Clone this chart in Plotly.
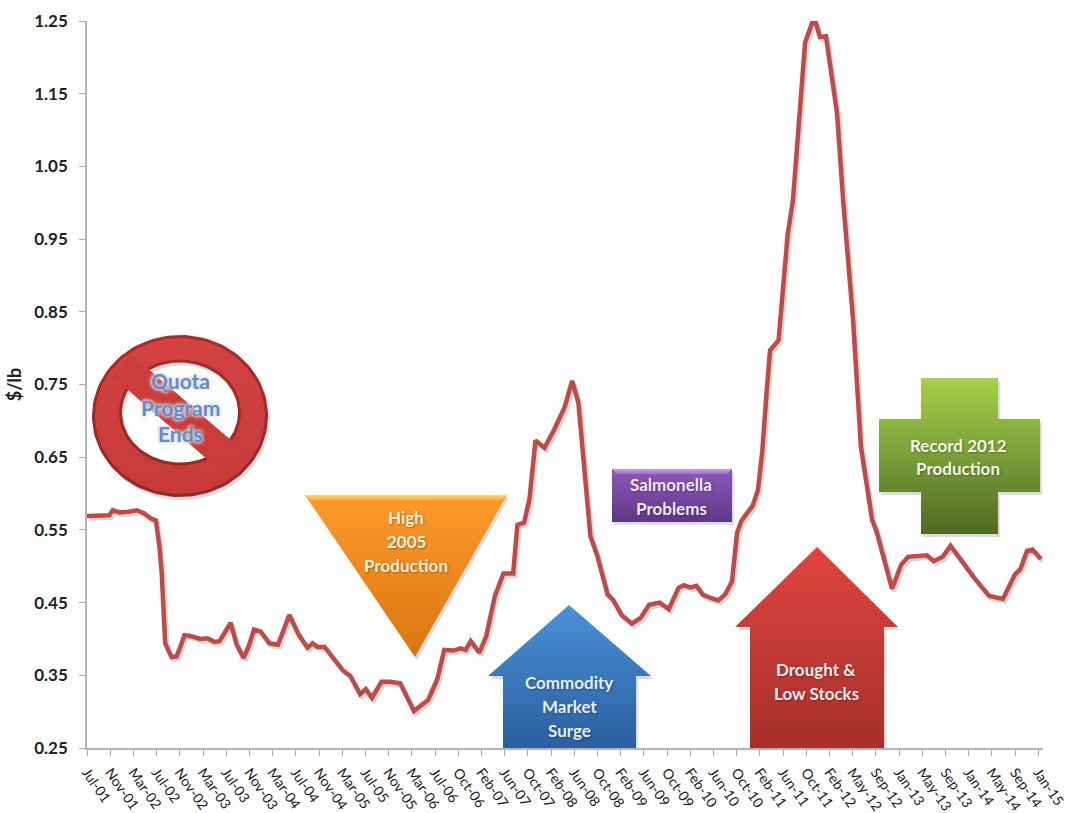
import numpy as np
import plotly.graph_objects as go

tick_labels = ["Jul-01","Nov-01","Mar-02","Jul-02","Nov-02","Mar-03","Jul-03","Nov-03","Mar-04","Jul-04","Nov-04",
               "Mar-05","Jul-05","Nov-05","Mar-06","Jul-06","Oct-06","Feb-07","Jun-07","Oct-07","Feb-08","Jun-08",
               "Oct-08","Feb-09","Jun-09","Oct-09","Feb-10","Jun-10","Oct-10","Feb-11","Jun-11","Oct-11","Feb-12",
               "May-12","Sep-12","Jan-13","May-13","Sep-13","Jan-14","May-14","Sep-14","Jan-15"]

# position along the date axis, in tick intervals
period_pos = [0,.96,1.11,1.41,1.78,2.15,2.45,2.74,2.97,3.12,3.22,3.37,3.64,3.86,4.01,4.2,4.45,4.9,5.19,5.49,5.71,5.93,
              6.19,6.45,6.75,6.97,7.2,7.49,7.86,8.23,8.46,8.72,9.12,9.5,9.72,9.94,10.24,10.68,11.02,11.35,11.77,12.02,
              12.28,12.69,13.06,13.5,14.09,14.7,15.09,15.4,15.8,16.1,16.32,16.54,16.91,17.21,17.58,17.95,18.37,18.55,
              18.84,19.07,19.33,19.72,20.14,20.58,20.91,21.18,21.48,21.7,22.0,22.44,22.67,23.04,23.49,23.86,24.23,24.68,
              25.08,25.49,25.72,26.01,26.27,26.54,26.91,27.21,27.5,27.8,28.02,28.2,28.4,28.69,28.92,29.1,29.29,29.44,
              29.81,30.2,30.43,30.73,30.95,31.25,31.42,31.59,31.85,32.33,32.59,33.02,33.36,33.84,34.05,34.7,35.09,35.39,
              35.99,36.2,36.5,36.88,37.22,37.7,38.29,38.89,39.48,40.0,40.23,40.52,40.75,41.12]
price = [.569,.570,.577,.574,.575,.577,.573,.566,.563,.527,.491,.394,.375,.376,.388,.405,.404,.400,.401,.396,.397,.408,
         .422,.392,.374,.390,.413,.410,.394,.392,.413,.433,.406,.388,.394,.389,.389,.372,.357,.349,.324,.331,
         .319,.341,.341,.339,.301,.316,.344,.385,.384,.387,.385,.397,.381,.404,.459,.490,.490,.557,
         .560,.592,.673,.663,.688,.718,.755,.725,.619,.541,.514,.461,.454,.433,.421,.429,.447,.450,
         .441,.470,.474,.471,.473,.461,.456,.453,.461,.479,.546,.562,.571,.583,.605,.656,.738,.797,
         .811,.956,1.004,1.118,1.22,1.247,1.247,1.228,1.229,1.123,1.004,.839,.664,.564,.546,.469,.502,.513,
         .515,.515,.507,.513,.528,.507,.482,.459,.455,.489,.496,.521,.523,.510]

y_ticks = [0.25,0.35,0.45,0.55,0.65,0.75,0.85,0.95,1.05,1.15,1.25]

PX_L, PX_R, PX_T, PX_B = 87, 1043, 21, 748
x_max = (PX_R - PX_L) / 23.2
FONT = "Lato"

fig = go.Figure()

# main axes: carries ticks and labels
fig.add_trace(go.Scatter(x=period_pos, y=price, mode="none", hoverinfo="skip", xaxis="x", yaxis="y"))

# soft shadow under the line, same data on axes shifted by a couple of pixels
dx = 2.0 / 23.2
dy = 2.5 * 1.0 / (PX_B - PX_T)
fig.add_trace(go.Scatter(x=period_pos, y=price, mode="lines", xaxis="x2", yaxis="y2", hoverinfo="skip",
                         line=dict(color="rgba(90,90,90,0.25)", width=4.5)))
fig.add_trace(go.Scatter(x=period_pos, y=price, mode="lines", xaxis="x3", yaxis="y3",
                         line=dict(color="#be4b48", width=4.5)))


def poly(xs, ys, top, bottom, shadow=True):
    xs, ys = list(xs), list(ys)
    if shadow:
        fig.add_trace(go.Scatter(x=[v + 2 for v in xs], y=[v + 3 for v in ys], mode="lines", fill="toself",
                                 line=dict(width=0), fillcolor="rgba(80,80,80,0.2)", xaxis="x4", yaxis="y4",
                                 hoverinfo="skip"))
    fig.add_trace(go.Scatter(x=xs, y=ys, mode="lines", fill="toself", line=dict(width=0), xaxis="x4", yaxis="y4",
                             hoverinfo="skip",
                             fillgradient=dict(type="vertical", start=min(ys), stop=max(ys),
                                               colorscale=[[0, top], [1, bottom]])))


def arrow(apex_x, apex_y, hl, hr, head_y, sl, sr, base, top, bottom):
    poly([apex_x, hr, sr, sr, sl, sl, hl, apex_x], [apex_y, head_y, head_y, base, base, head_y, head_y, apex_y],
         top, bottom)


def ring(cx, cy_o, rx_o, ry_o, cy_i, rx_i, ry_i, top, bottom, shadow):
    th = np.linspace(0, 2 * np.pi, 121)
    poly(list(cx + rx_o * np.cos(th)) + list(cx + rx_i * np.cos(th[::-1])),
         list(cy_o + ry_o * np.sin(th)) + list(cy_i + ry_i * np.sin(th[::-1])), top, bottom, shadow=shadow)


# no-entry sign: dark rim, brighter body, diagonal bar
ring(180, 416, 88, 81, 412.5, 58, 50, "#a92c2c", "#962626", True)
ring(180, 416, 85, 78, 412.5, 61, 53, "#d44242", "#c63a3a", False)
poly([131, 247, 224, 112, 131], [354, 454, 474, 376, 354], "#cc3d3d", "#c83b3b", shadow=False)

# high production triangle
poly([305, 507, 415, 305], [495, 495, 657, 495], "#ff9a2a", "#d9760f")
poly([305, 507, 502, 310, 305], [495, 495, 500, 500, 495], "#ffd868", "#ffb040", shadow=False)
# commodity arrow
arrow(569, 605, 488, 651, 676, 503, 636, 748, "#4a90d8", "#2a5f9f")
# salmonella box
poly([612, 732, 732, 612, 612], [469, 469, 522, 522, 469], "#8e58bd", "#5d3884")
poly([612, 732, 727, 617, 612], [469, 469, 474, 474, 469], "#c9a4e6", "#a070cc", shadow=False)
# drought arrow
arrow(817, 547, 735, 898, 627, 750, 884, 748, "#e0443e", "#a62f2b")
# production plus
poly([921, 998, 998, 1040, 1040, 998, 998, 921, 921, 879, 879, 921, 921],
     [378, 378, 419, 419, 492, 492, 534, 534, 492, 492, 419, 419, 378], "#a4d24a", "#4e6a25")

BLUE = "#5b8fd0"
notes = [("Quota", 180, 380, BLUE), ("Program", 180, 407, BLUE), ("Ends", 180, 433, BLUE),
         ("High", 406, 517, "#fdeed9"), ("2005", 406, 541, "#fdeed9"), ("Production", 406, 565, "#fdeed9"),
         ("Commodity", 569, 682, "#e8f0fa"), ("Market", 569, 706, "#e8f0fa"), ("Surge", 569, 730, "#e8f0fa"),
         ("Salmonella", 671, 484, "#f0e8f6"), ("Problems", 671, 508, "#f0e8f6"),
         ("Drought &", 816, 669, "#fbeaea"), ("Low Stocks", 816, 693, "#fbeaea"),
         ("Record 2012", 958, 445, "#f4f8e6"), ("Production", 958, 468, "#f4f8e6")]
annotations = []
for text, x, y, col in notes:
    is_blue = col == BLUE
    glow = "0 0 4px #e4dcdc, 0 0 4px #e4dcdc, 0 0 3px #e4dcdc" if is_blue else "1px 1px 2px rgba(0,0,0,0.3)"
    annotations.append(dict(text=f"<b>{text}</b>", x=x, y=y, xref="x4", yref="y4", showarrow=False,
                            xanchor="center", yanchor="middle",
                            font=dict(family=FONT, size=21 if is_blue else 17, color=col, shadow=glow)))

hidden = dict(visible=False, fixedrange=True)
fig.update_layout(
    width=1069, height=813, autosize=False, showlegend=False,
    paper_bgcolor="white", plot_bgcolor="white",
    margin=dict(l=PX_L, r=1069 - PX_R, t=PX_T, b=813 - PX_B, pad=0),
    font=dict(family=FONT, color="#222222"),
    annotations=annotations,
    xaxis=dict(range=[0, x_max], tickmode="array", tickvals=list(range(len(tick_labels))), ticktext=tick_labels,
               automargin=False,
               tickangle=55, ticks="outside", ticklen=6, tickcolor="#aaaaaa", tickwidth=1, ticklabelstandoff=3,
               showline=True, linecolor="#b4b4b4", linewidth=1.5, showgrid=False, zeroline=False,
               tickfont=dict(family=FONT, size=14, color="#1a1a1a")),
    yaxis=dict(range=[0.25, 1.25], tickmode="array", tickvals=y_ticks, ticktext=[f"{v:.2f}" for v in y_ticks],
               automargin=False,
               ticks="outside", ticklen=6, tickcolor="#aaaaaa", tickwidth=1, ticklabelstandoff=8,
               showline=True, linecolor="#b4b4b4", linewidth=1.5, showgrid=False, zeroline=False,
               tickfont=dict(family=FONT, size=17, color="#222222", weight="bold"),
               title=dict(text="<b>$/lb</b>", font=dict(family=FONT, size=18, color="#222222"), standoff=8)),
    xaxis2=dict(overlaying="x", range=[-dx, x_max - dx], **hidden),
    yaxis2=dict(overlaying="y", range=[0.25 + dy, 1.25 + dy], **hidden),
    xaxis3=dict(overlaying="x", range=[0, x_max], **hidden),
    yaxis3=dict(overlaying="y", range=[0.25, 1.25], **hidden),
    xaxis4=dict(overlaying="x", range=[PX_L, PX_R], **hidden),
    yaxis4=dict(overlaying="y", range=[PX_B, PX_T], **hidden),
)

fig.write_html("out.html", config=dict(displayModeBar=False),
               post_script="document.documentElement.style.margin='0';document.body.style.margin='0';"
                           "document.documentElement.style.overflow='hidden';")
